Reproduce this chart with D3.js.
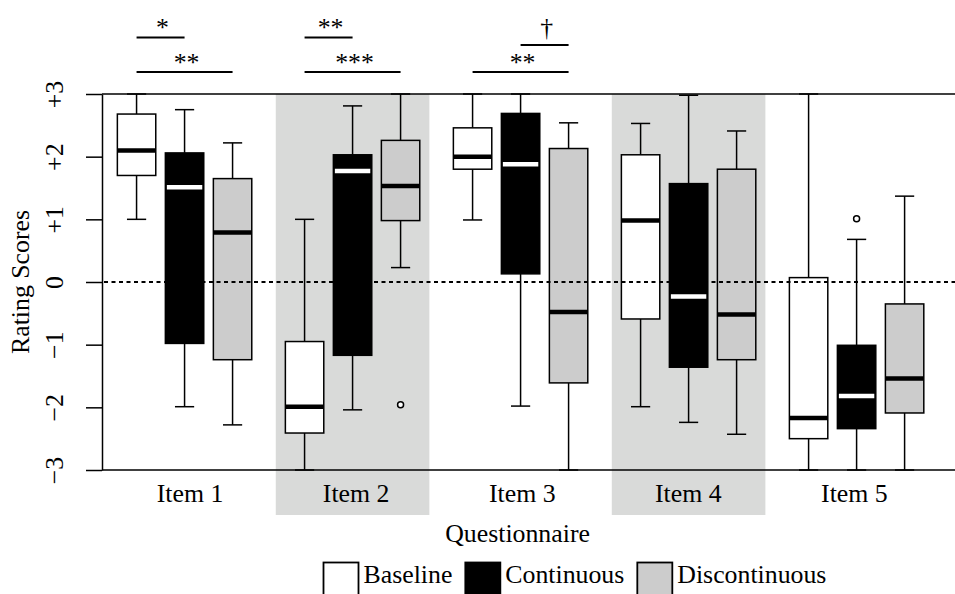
<!DOCTYPE html>
<head>
  <meta charset="utf-8">
  <script src="https://cdn.jsdelivr.net/npm/d3@7"></script>
  <style>
    body { margin:0; background:#fff; }
    text { font-family: "Liberation Serif", "DejaVu Serif", serif; font-size: 25.8px; fill: #000; }
  </style>
</head>

<body>
<script>

// ---- data ----
var items = ["Item 1", "Item 2", "Item 3", "Item 4", "Item 5"];
var conditions = ["Baseline", "Continuous", "Discontinuous"];

// one row per item, one column per condition
var upperWhisker = [[3.00, 2.75, 2.22], [1.00, 2.81, 3.00], [3.00, 3.00, 2.54], [2.53, 2.98, 2.41], [3.00, 0.68, 1.37]];
var q3           = [[2.68, 2.06, 1.65], [-0.95, 2.03, 2.26], [2.46, 2.69, 2.13], [2.03, 1.57, 1.80], [0.07, -1.01, -0.35]];
var medians      = [[2.10, 1.51, 0.79], [-1.99, 1.77, 1.53], [2.00, 1.88, -0.48], [0.98, -0.23, -0.52], [-2.17, -1.82, -1.54]];
var q1           = [[1.70, -0.98, -1.24], [-2.41, -1.17, 0.98], [1.80, 0.13, -1.61], [-0.59, -1.36, -1.24], [-2.50, -2.34, -2.09]];
var lowerWhisker = [[1.00, -1.99, -2.28], [-3.00, -2.04, 0.23], [0.99, -1.98, -3.00], [-1.99, -2.24, -2.43], [-3.00, -3.00, -3.00]];

var outliers = [
  { item: 1, cond: 2, value: -1.96 },
  { item: 4, cond: 1, value: 1.01 }
];

var yTicks = [3, 2, 1, 0, -1, -2, -3];
var yTickLabels = ["+3", "+2", "+1", "0", "\u22121", "\u22122", "\u22123"];

// significance bars: height is in rating units (above the plot)
var significance = [
  { item: 0, from: 0, to: 1, height: 3.90, label: "*" },
  { item: 0, from: 0, to: 2, height: 3.35, label: "**" },
  { item: 1, from: 0, to: 1, height: 3.90, label: "**" },
  { item: 1, from: 0, to: 2, height: 3.35, label: "***" },
  { item: 2, from: 1, to: 2, height: 3.78, label: "\u2020" },
  { item: 2, from: 0, to: 2, height: 3.35, label: "**" }
];

var shadedItems = [1, 3];

// ---- layout ----
var width = 955, height = 594;
var plotLeft = 102, plotRight = 955, plotTop = 94, plotBottom = 470, bandBottom = 515;
var groupStep = 3.5, boxW = 0.8, capW = 0.4;
var fills = ["#ffffff", "#000000", "#cccccc"];
var medColors = ["#000000", "#ffffff", "#000000"];

var svg = d3.select("body").append("svg")
  .attr("width", width)
  .attr("height", height);

var x = d3.scaleLinear().domain([-0.72, 17.05]).range([plotLeft, plotRight]);
var y = d3.scaleLinear().domain([-3, 3]).range([plotBottom, plotTop]);

function pos(i, j) { return i * groupStep + j; }

// shaded bands behind items 2 and 4
svg.selectAll(".band")
  .data(shadedItems)
  .enter().append("rect")
  .attr("x", function(i) { return x(pos(i, 1) - 1.6); })
  .attr("width", function(i) { return x(pos(i, 1) + 1.6) - x(pos(i, 1) - 1.6); })
  .attr("y", plotTop)
  .attr("height", bandBottom - plotTop)
  .style("fill", "#d9dad9");

// build box table
var boxes = [];
items.forEach(function(name, i) {
  conditions.forEach(function(c, j) {
    boxes.push({ i: i, j: j, hi: upperWhisker[i][j], q3: q3[i][j], med: medians[i][j], q1: q1[i][j], lo: lowerWhisker[i][j] });
  });
});

var g = svg.selectAll(".box")
  .data(boxes)
  .enter().append("g");

// whiskers
g.append("line")
  .attr("x1", function(d) { return x(pos(d.i, d.j)); })
  .attr("x2", function(d) { return x(pos(d.i, d.j)); })
  .attr("y1", function(d) { return y(d.hi); })
  .attr("y2", function(d) { return y(d.q3); })
  .style("stroke", "#000").style("stroke-width", 1.5);
g.append("line")
  .attr("x1", function(d) { return x(pos(d.i, d.j)); })
  .attr("x2", function(d) { return x(pos(d.i, d.j)); })
  .attr("y1", function(d) { return y(d.q1); })
  .attr("y2", function(d) { return y(d.lo); })
  .style("stroke", "#000").style("stroke-width", 1.5);
// caps
g.append("line")
  .attr("x1", function(d) { return x(pos(d.i, d.j) - capW / 2); })
  .attr("x2", function(d) { return x(pos(d.i, d.j) + capW / 2); })
  .attr("y1", function(d) { return y(d.hi); })
  .attr("y2", function(d) { return y(d.hi); })
  .style("stroke", "#000").style("stroke-width", 1.5);
g.append("line")
  .attr("x1", function(d) { return x(pos(d.i, d.j) - capW / 2); })
  .attr("x2", function(d) { return x(pos(d.i, d.j) + capW / 2); })
  .attr("y1", function(d) { return y(d.lo); })
  .attr("y2", function(d) { return y(d.lo); })
  .style("stroke", "#000").style("stroke-width", 1.5);

// boxes
g.append("rect")
  .attr("x", function(d) { return x(pos(d.i, d.j) - boxW / 2); })
  .attr("width", x(boxW) - x(0))
  .attr("y", function(d) { return y(d.q3); })
  .attr("height", function(d) { return y(d.q1) - y(d.q3); })
  .style("fill", function(d) { return fills[d.j]; })
  .style("stroke", "#000")
  .style("stroke-width", 1.5);

// medians
g.append("line")
  .attr("x1", function(d) { return x(pos(d.i, d.j) - boxW / 2) + (d.j == 1 ? 1.5 : 0); })
  .attr("x2", function(d) { return x(pos(d.i, d.j) + boxW / 2) - (d.j == 1 ? 1.5 : 0); })
  .attr("y1", function(d) { return y(d.med); })
  .attr("y2", function(d) { return y(d.med); })
  .style("stroke", function(d) { return medColors[d.j]; })
  .style("stroke-width", 4.5);

// outliers
svg.selectAll(".out")
  .data(outliers)
  .enter().append("circle")
  .attr("cx", function(d) { return x(pos(d.item, d.cond)); })
  .attr("cy", function(d) { return y(d.value); })
  .attr("r", 3)
  .style("fill", "#fff")
  .style("stroke", "#000")
  .style("stroke-width", 1.5);

// dashed zero line
svg.append("line")
  .attr("x1", plotLeft + 2).attr("x2", plotRight)
  .attr("y1", y(0)).attr("y2", y(0))
  .style("stroke", "#000")
  .style("stroke-width", 2)
  .style("stroke-dasharray", "4,3.5");

// frame top / bottom and y axis
svg.append("line").attr("x1", plotLeft).attr("x2", plotRight).attr("y1", plotTop).attr("y2", plotTop)
  .style("stroke", "#000").style("stroke-width", 1.5);
svg.append("line").attr("x1", plotLeft).attr("x2", plotRight).attr("y1", plotBottom).attr("y2", plotBottom)
  .style("stroke", "#000").style("stroke-width", 1.5);

var yAxis = d3.axisLeft(y)
  .tickValues(yTicks)
  .tickSize(16)
  .tickSizeOuter(0)
  .tickFormat(function(d, i) { return yTickLabels[i]; });

var ya = svg.append("g")
  .attr("transform", "translate(" + plotLeft + ",0)")
  .call(yAxis);
ya.select(".domain").style("stroke-width", 1.5);
ya.selectAll(".tick line").style("stroke-width", 1.5);
ya.selectAll(".tick text")
  .attr("x", null).attr("dy", null)
  .attr("transform", "translate(-39,0) rotate(-90)")
  .style("text-anchor", "middle")
  .style("font-family", "Liberation Serif")
  .style("font-size", "25.8px");

svg.append("text")
  .attr("transform", "translate(29," + y(0) + ") rotate(-90)")
  .style("text-anchor", "middle")
  .text("Rating Scores");

// item labels (spaced a touch tighter than the boxes, as in the original)
svg.selectAll(".item")
  .data(items)
  .enter().append("text")
  .attr("x", function(d, i) { return x(1 + i * 3.46) + 5.5; })
  .attr("y", 501.5)
  .style("text-anchor", "middle")
  .text(function(d) { return d; });

svg.append("text")
  .attr("x", x(pos(2, 1)) - 3)
  .attr("y", 541.5)
  .style("text-anchor", "middle")
  .text("Questionnaire");

// significance bars
var sg = svg.selectAll(".sig")
  .data(significance)
  .enter().append("g");
sg.append("line")
  .attr("x1", function(d) { return x(pos(d.item, d.from)); })
  .attr("x2", function(d) { return x(pos(d.item, d.to)); })
  .attr("y1", function(d) { return y(d.height); })
  .attr("y2", function(d) { return y(d.height); })
  .style("stroke", "#000")
  .style("stroke-width", 2);
sg.append("text")
  .attr("x", function(d) { return (x(pos(d.item, d.from)) + x(pos(d.item, d.to))) / 2 + 2; })
  .attr("y", function(d) { return y(d.height) - (d.label == "\u2020" ? 9 : 1.4); })
  .style("text-anchor", "middle")
  .text(function(d) { return d.label; });

// legend
var lx = 323.5;
conditions.forEach(function(c, j) {
  svg.append("rect")
    .attr("x", lx).attr("y", 562.5)
    .attr("width", 35).attr("height", 40)
    .style("fill", fills[j])
    .style("stroke", "#000")
    .style("stroke-width", 1.8);
  var t = svg.append("text")
    .attr("x", lx + 40).attr("y", 583)
    .text(c);
  lx += 40 + t.node().getComputedTextLength() + 13;
});

</script>
</body>
